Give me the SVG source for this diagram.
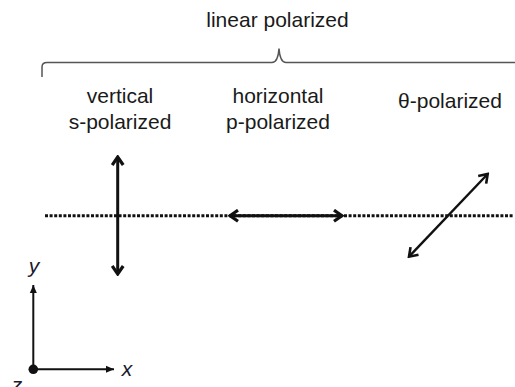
<svg xmlns="http://www.w3.org/2000/svg" width="515" height="387" viewBox="0 0 515 387">
<style>
text{font-family:"Liberation Sans",Arial,sans-serif;font-size:21px;fill:#1a1a1a;text-anchor:middle}
.ax{font-style:italic;fill:#1a1a2e}
.pol{stroke:#111;stroke-width:3;fill:none}
.thin{stroke:#111;stroke-width:2.4;fill:none}
.axl{stroke:#111;stroke-width:2;fill:none}
</style>
<defs>
<marker id="ah" viewBox="0 0 14 14" refX="12" refY="7" markerWidth="14" markerHeight="14" markerUnits="userSpaceOnUse" orient="auto-start-reverse">
<path d="M4,1.5 L12,7 L4,12.5" fill="none" stroke="#111" stroke-width="3.2" stroke-linejoin="miter"/>
</marker>
<marker id="ah2" viewBox="0 0 14 14" refX="12" refY="7" markerWidth="14" markerHeight="14" markerUnits="userSpaceOnUse" orient="auto-start-reverse">
<path d="M4,1.5 L12,7 L4,12.5" fill="none" stroke="#111" stroke-width="2.6"/>
</marker>
<marker id="tri" viewBox="0 0 10 10" refX="9" refY="5" markerWidth="10" markerHeight="10" markerUnits="userSpaceOnUse" orient="auto">
<path d="M1,1.5 L9,5 L1,8.5 Z" fill="#111"/>
</marker>
</defs>
<g id="title">
<text x="277.5" y="27">linear polarized</text>
<path d="M42,77 L42,67 Q42,62.5 47,62.5 L272,62.5 Q278,62.5 279,48.5 Q280,62.5 286,62.5 L515,62.5" fill="none" stroke="#555" stroke-width="1.5"/>
</g>
<g id="labels">
<text x="120" y="103">vertical</text>
<text x="120" y="129">s-polarized</text>
<text x="278" y="103">horizontal</text>
<text x="278" y="129">p-polarized</text>
<text x="450" y="108">θ-polarized</text>
</g>
<g id="connectors">
<line x1="45" y1="215.7" x2="514" y2="215.7" stroke="#111" stroke-width="3" stroke-dasharray="3 1.6"/>
<line class="pol" x1="117.7" y1="157" x2="117.7" y2="274" marker-start="url(#ah)" marker-end="url(#ah)"/>
<line class="pol" x1="230" y1="215.7" x2="342" y2="215.7" marker-start="url(#ah)" marker-end="url(#ah)"/>
<line class="thin" x1="409" y1="256.7" x2="487.7" y2="174" marker-start="url(#ah2)" marker-end="url(#ah2)"/>
</g>
<g id="axes">
<line class="axl" x1="33.3" y1="369.3" x2="33.3" y2="285" marker-end="url(#tri)"/>
<line class="axl" x1="33.3" y1="369.3" x2="114" y2="369.3" marker-end="url(#tri)"/>
<circle cx="33.3" cy="369.3" r="4.8" fill="#111"/>
<text class="ax" x="34" y="273">y</text>
<text class="ax" x="127" y="376">x</text>
<text class="ax" x="17" y="392">z</text>
</g>
</svg>
